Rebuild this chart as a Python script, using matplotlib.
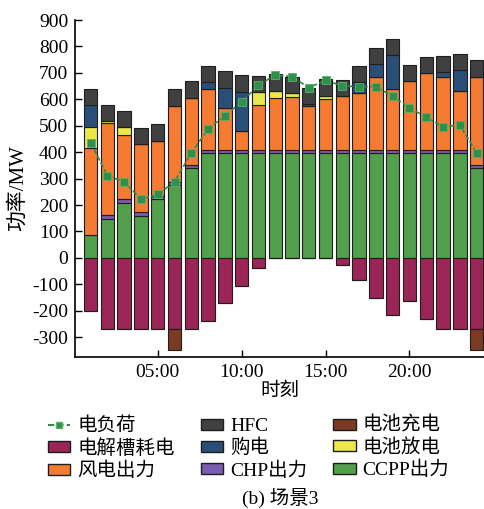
import numpy as np
import matplotlib
matplotlib.use("Agg")
import matplotlib.pyplot as plt
from matplotlib.patches import Patch
from matplotlib.lines import Line2D

plt.rcParams['font.family'] = ['Liberation Serif', 'Noto Sans CJK SC']
plt.rcParams['axes.unicode_minus'] = False

hours = np.arange(1, 25)

# positive side, bottom to top
ccpp = [86, 147, 207, 160, 222, 276, 339, 398, 398, 398, 398, 398,
        398, 398, 398, 398, 398, 398, 398, 398, 398, 398, 398, 339]
chp = [2, 16, 15, 14, 12, 13, 13, 12, 12, 12, 12, 12,
       12, 12, 12, 12, 12, 12, 12, 12, 12, 12, 12, 14]
wind = [329, 348, 243, 256, 208, 287, 254, 228, 158, 72, 169, 194,
        200, 163, 190, 202, 215, 276, 228, 258, 288, 276, 220, 333]
discharge = [79, 8, 31, 0, 0, 0, 0, 0, 0, 0, 48, 29,
             13, 0, 12, 0, 0, 0, 0, 0, 0, 0, 0, 0]
buy = [81, 0, 0, 0, 0, 0, 0, 27, 75, 147, 0, 0,
       0, 10, 0, 0, 42, 48, 129, 0, 0, 16, 80, 0]
hfc = [62, 59, 61, 60, 66, 62, 62, 62, 63, 62, 62, 63,
       63, 60, 64, 63, 61, 61, 61, 62, 62, 62, 61, 61]

# negative side
electrolysis = [-200, -268, -268, -268, -268, -268, -270, -238, -171, -105, -38, 0,
                0, 0, 0, -25, -83, -150, -217, -164, -231, -268, -268, -268]
charge = [0, 0, 0, 0, 0, -81, 0, 0, 0, 0, 0, 0,
          0, 0, 0, 0, 0, 0, 0, 0, 0, 0, 0, -81]

load = [436, 311, 288, 222, 240, 288, 397, 488, 538, 590, 653, 692,
        686, 644, 672, 651, 648, 648, 612, 568, 532, 496, 503, 398]

colors = {
    'load': '#2e8b4a',
    'hfc': '#404040',
    'charge': '#7b3a22',
    'elec': '#9b2556',
    'buy': '#2b4e78',
    'discharge': '#ece84c',
    'wind': '#f47b31',
    'chp': '#7a5cb0',
    'ccpp': '#52a04c',
}
edge = '#1e1e1e'

fig = plt.figure(figsize=(4.85, 5.09), dpi=100)
ax = fig.add_axes([0.155, 0.2986, 0.845, 0.662])

w = 0.8
bottom = np.zeros(24)
for vals, key in [(ccpp, 'ccpp'), (chp, 'chp'), (wind, 'wind'),
                  (discharge, 'discharge'), (buy, 'buy'), (hfc, 'hfc')]:
    ax.bar(hours, vals, w, bottom=bottom, color=colors[key],
           edgecolor=edge, linewidth=0.8)
    bottom += np.array(vals)

ax.bar(hours, electrolysis, w, color=colors['elec'], edgecolor=edge, linewidth=0.8)
ax.bar(hours, charge, w, bottom=electrolysis, color=colors['charge'],
       edgecolor=edge, linewidth=0.8)

ax.plot(hours, load, color=colors['load'], linestyle=(0, (3, 1.5)), linewidth=1.2,
        marker='s', markersize=6, markerfacecolor='#2f8f4c',
        markeredgecolor='#5cb06a', markeredgewidth=0.6, zorder=5)

ax.set_xlim(0.08, 24.5)
ax.set_ylim(-375, 900)
ax.set_yticks(np.arange(-300, 901, 100))
ax.set_xticks([5, 10, 15, 20])
ax.set_xticklabels(['05:00', '10:00', '15:00', '20:00'])
ax.tick_params(direction='in', labelsize=14, length=5, width=1, pad=5)
ax.spines['top'].set_visible(False)
ax.spines['right'].set_visible(False)
for s in ['left', 'bottom']:
    ax.spines[s].set_linewidth(1.2)
ax.set_ylabel('功率/MW', fontsize=15, labelpad=3)
ax.set_xlabel('时刻', fontsize=14, labelpad=1)

handles = [
    Line2D([], [], color=colors['load'], linestyle=(0, (3, 1.5)), marker='s',
           markersize=5, markerfacecolor='#2f8f4c', markeredgecolor='#5cb06a'),
    Patch(facecolor=colors['elec'], edgecolor=edge),
    Patch(facecolor=colors['wind'], edgecolor=edge),
    Patch(facecolor=colors['hfc'], edgecolor=edge),
    Patch(facecolor=colors['buy'], edgecolor=edge),
    Patch(facecolor=colors['chp'], edgecolor=edge),
    Patch(facecolor=colors['charge'], edgecolor=edge),
    Patch(facecolor=colors['discharge'], edgecolor=edge),
    Patch(facecolor=colors['ccpp'], edgecolor=edge),
]
labels = ['电负荷', '电解槽耗电', '风电出力', 'HFC', '购电', 'CHP出力',
          '电池充电', '电池放电', 'CCPP出力']
fig.legend(handles, labels, ncol=3, loc='upper left',
           bbox_to_anchor=(48 / 485, 1 - 417 / 509),
           frameon=False, fontsize=14, handlelength=1.15, handleheight=0.5,
           handletextpad=0.35, columnspacing=1.35, labelspacing=0.2,
           borderpad=0, borderaxespad=0)

fig.text(0.577, 0.022, '(b) 场景3', ha='center', va='center', fontsize=14)

fig.savefig('out.png', dpi=100)
